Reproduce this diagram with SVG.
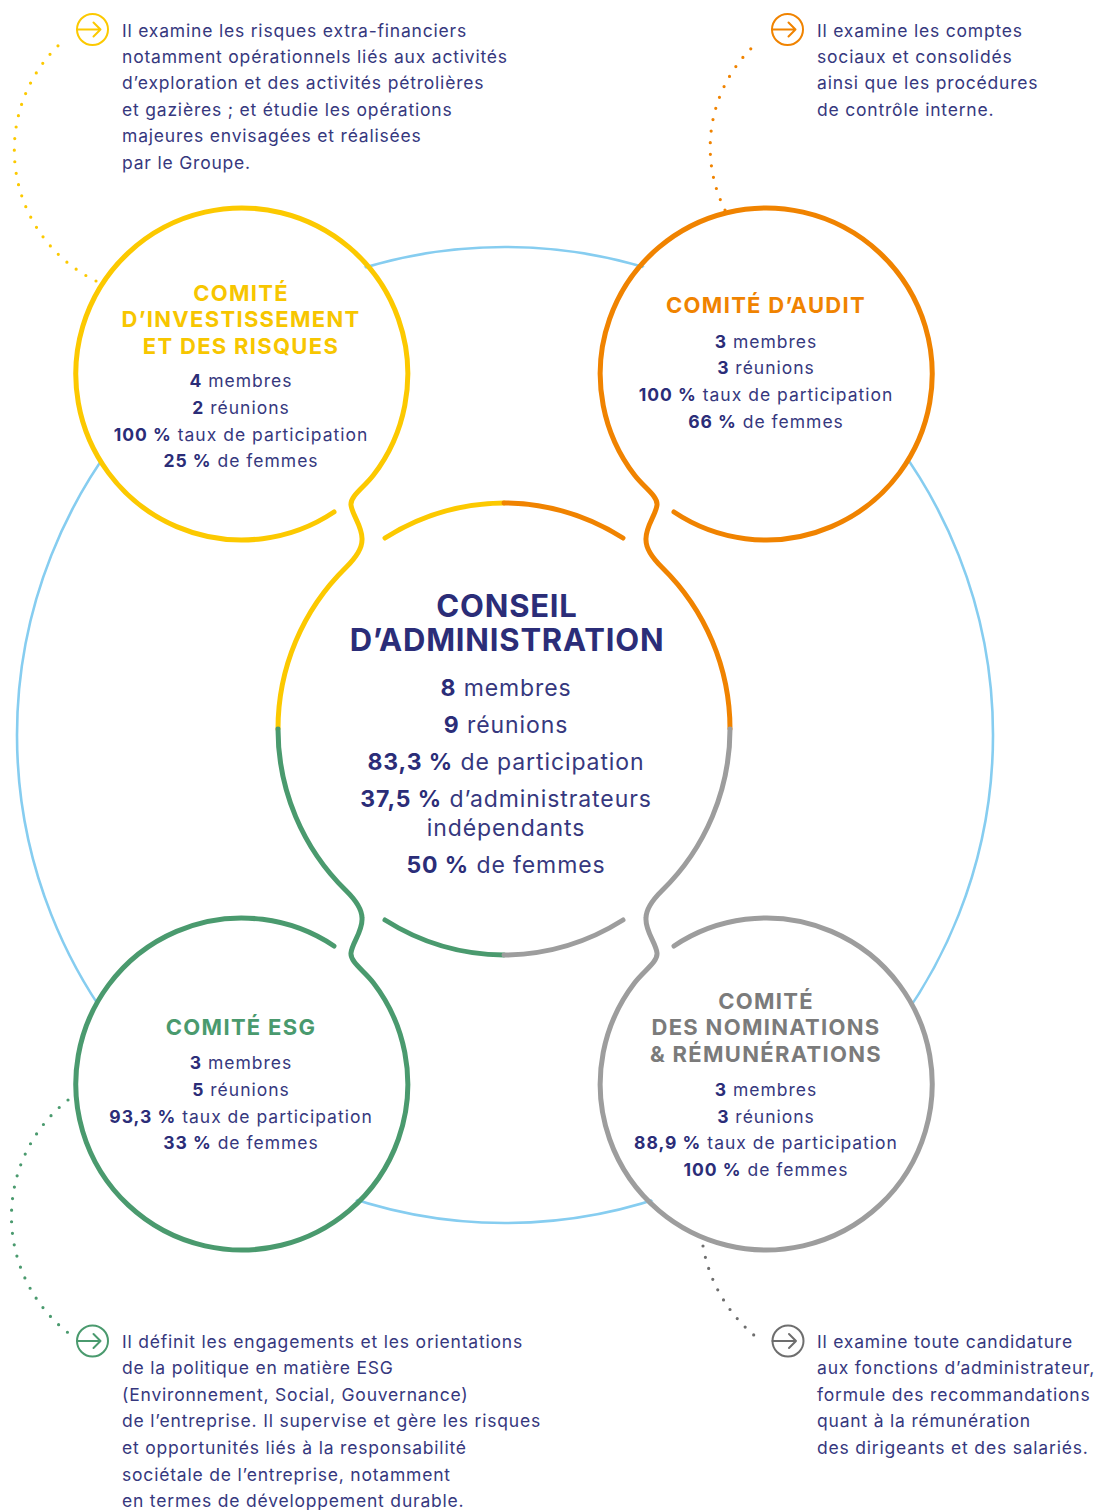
<svg xmlns="http://www.w3.org/2000/svg" xmlns:xlink="http://www.w3.org/1999/xlink" width="1104" height="1510" viewBox="0 0 1104 1510">
<style>
text{font-family:Inter,"Liberation Sans",sans-serif;}
.desc{font-size:17.5px;letter-spacing:0.8px;fill:#36387e;}
.st{font-size:17.5px;letter-spacing:1px;fill:#36387e;text-anchor:middle;}
.b{font-weight:700;fill:#2b2d78;}
.ttl{font-size:22px;letter-spacing:1.3px;font-weight:700;text-anchor:middle;}
.ct{font-size:31px;letter-spacing:0.8px;font-weight:700;fill:#2b2d78;text-anchor:middle;}
.cs{font-size:23px;letter-spacing:0.9px;fill:#36387e;text-anchor:middle;}
.ring{fill:none;stroke-width:5;stroke-linecap:round;}
.dots{fill:none;stroke-width:3.2;stroke-linecap:round;stroke-dasharray:0 11.6;}
.icon{fill:none;stroke-width:2;stroke-linecap:round;stroke-linejoin:round;}
.disc{fill:#fff;}
</style>
<defs>
<path id="q" d="M 334 512 A 166 166 0 1 1 373.5 475 C 364.5 487 350 496 351 505 C 352 515 363 527 362 540 C 362 550 351.6 561.9 345.9 567.5 A 226 226 0 0 0 278 729"/>
<path id="arc" d="M 385 538 A 226 226 0 0 1 504 503"/>
<g id="ico"><circle cx="0" cy="0" r="15.5"/><path d="M -15.5 0 H 8 M 1 -7 L 8 0 L 1 7"/></g>
</defs>

<circle cx="505" cy="735" r="488" fill="none" stroke="#86cdf0" stroke-width="2.6"/>

<g id="connectors">
<path class="dots" stroke="#fcc900" d="M 96 281 A 146 146 0 0 1 62 42"/>
<path class="dots" stroke="#f08300" d="M 725 210 A 140 140 0 0 1 758 42"/>
<path class="dots" stroke="#4a9a6e" d="M 68 1100 A 148 148 0 0 0 71 1335"/>
<path class="dots" stroke="#6e6e6e" d="M 703 1246 A 150 150 0 0 0 760 1340"/>
<use href="#ico" class="icon" stroke="#fcc900" transform="translate(92.5 29.5)"/>
<use href="#ico" class="icon" stroke="#f08300" transform="translate(787.5 29.5)"/>
<use href="#ico" class="icon" stroke="#4a9a6e" transform="translate(92.5 1341)"/>
<use href="#ico" class="icon" stroke="#6e6e6e" transform="translate(788 1341)"/>
</g>

<g id="comite-investissement">
<circle class="disc" cx="241" cy="375" r="164"/>
<use href="#q" class="ring" stroke="#fcc900"/>
<use href="#arc" class="ring" stroke="#fcc900"/>
<text class="ttl" fill="#f7c600"><tspan x="241" y="301">COMITÉ</tspan><tspan x="241" y="327">D’INVESTISSEMENT</tspan><tspan x="241" y="354">ET DES RISQUES</tspan></text>
<text class="st"><tspan x="241" y="387"><tspan class="b">4</tspan> membres</tspan><tspan x="241" y="414"><tspan class="b">2</tspan> réunions</tspan><tspan x="241" y="441"><tspan class="b">100 %</tspan> taux de participation</tspan><tspan x="241" y="467"><tspan class="b">25 %</tspan> de femmes</tspan></text>
</g>

<g id="comite-audit">
<circle class="disc" cx="767" cy="375" r="164"/>
<use href="#q" class="ring" stroke="#f08300" transform="matrix(-1 0 0 1 1008 0)"/>
<use href="#arc" class="ring" stroke="#f08300" transform="matrix(-1 0 0 1 1008 0)"/>
<text class="ttl" fill="#f08300" x="766" y="313">COMITÉ D’AUDIT</text>
<text class="st"><tspan x="766" y="348"><tspan class="b">3</tspan> membres</tspan><tspan x="766" y="374"><tspan class="b">3</tspan> réunions</tspan><tspan x="766" y="401"><tspan class="b">100 %</tspan> taux de participation</tspan><tspan x="766" y="428"><tspan class="b">66 %</tspan> de femmes</tspan></text>
</g>

<g id="comite-esg">
<circle class="disc" cx="241" cy="1083" r="164"/>
<use href="#q" class="ring" stroke="#4a9a6e" transform="matrix(1 0 0 -1 0 1458)"/>
<use href="#arc" class="ring" stroke="#4a9a6e" transform="matrix(1 0 0 -1 0 1458)"/>
<text class="ttl" fill="#4a9a6e" x="241" y="1035">COMITÉ ESG</text>
<text class="st"><tspan x="241" y="1069"><tspan class="b">3</tspan> membres</tspan><tspan x="241" y="1096"><tspan class="b">5</tspan> réunions</tspan><tspan x="241" y="1123"><tspan class="b">93,3 %</tspan> taux de participation</tspan><tspan x="241" y="1149"><tspan class="b">33 %</tspan> de femmes</tspan></text>
</g>

<g id="comite-nominations">
<circle class="disc" cx="767" cy="1083" r="164"/>
<use href="#q" class="ring" stroke="#9d9d9d" transform="matrix(-1 0 0 -1 1008 1458)"/>
<use href="#arc" class="ring" stroke="#9d9d9d" transform="matrix(-1 0 0 -1 1008 1458)"/>
<text class="ttl" fill="#7b7b7b"><tspan x="766" y="1009">COMITÉ</tspan><tspan x="766" y="1035">DES NOMINATIONS</tspan><tspan x="766" y="1062">&amp; RÉMUNÉRATIONS</tspan></text>
<text class="st"><tspan x="766" y="1096"><tspan class="b">3</tspan> membres</tspan><tspan x="766" y="1123"><tspan class="b">3</tspan> réunions</tspan><tspan x="766" y="1149"><tspan class="b">88,9 %</tspan> taux de participation</tspan><tspan x="766" y="1176"><tspan class="b">100 %</tspan> de femmes</tspan></text>
</g>

<g id="conseil">
<text class="ct"><tspan x="507" y="617">CONSEIL</tspan><tspan x="507" y="651">D’ADMINISTRATION</tspan></text>
<text class="cs"><tspan x="506" y="696"><tspan class="b">8</tspan> membres</tspan><tspan x="506" y="733"><tspan class="b">9</tspan> réunions</tspan><tspan x="506" y="770"><tspan class="b">83,3 %</tspan> de participation</tspan><tspan x="506" y="807"><tspan class="b">37,5 %</tspan> d’administrateurs</tspan><tspan x="506" y="836">indépendants</tspan><tspan x="506" y="873"><tspan class="b">50 %</tspan> de femmes</tspan></text>
</g>

<g id="desc-investissement">
<text class="desc"><tspan x="122" y="37">Il examine les risques extra-financiers</tspan><tspan x="122" y="63">notamment opérationnels liés aux activités</tspan><tspan x="122" y="89">d’exploration et des activités pétrolières</tspan><tspan x="122" y="116">et gazières ; et étudie les opérations</tspan><tspan x="122" y="142">majeures envisagées et réalisées</tspan><tspan x="122" y="169">par le Groupe.</tspan></text>
</g>
<g id="desc-audit">
<text class="desc"><tspan x="817" y="37">Il examine les comptes</tspan><tspan x="817" y="63">sociaux et consolidés</tspan><tspan x="817" y="89">ainsi que les procédures</tspan><tspan x="817" y="116">de contrôle interne.</tspan></text>
</g>
<g id="desc-esg">
<text class="desc"><tspan x="122" y="1348">Il définit les engagements et les orientations</tspan><tspan x="122" y="1374">de la politique en matière ESG</tspan><tspan x="122" y="1401">(Environnement, Social, Gouvernance)</tspan><tspan x="122" y="1427">de l’entreprise. Il supervise et gère les risques</tspan><tspan x="122" y="1454">et opportunités liés à la responsabilité</tspan><tspan x="122" y="1481">sociétale de l’entreprise, notamment</tspan><tspan x="122" y="1507">en termes de développement durable.</tspan></text>
</g>
<g id="desc-nominations">
<text class="desc"><tspan x="817" y="1348">Il examine toute candidature</tspan><tspan x="817" y="1374">aux fonctions d’administrateur,</tspan><tspan x="817" y="1401">formule des recommandations</tspan><tspan x="817" y="1427">quant à la rémunération</tspan><tspan x="817" y="1454">des dirigeants et des salariés.</tspan></text>
</g>
</svg>
